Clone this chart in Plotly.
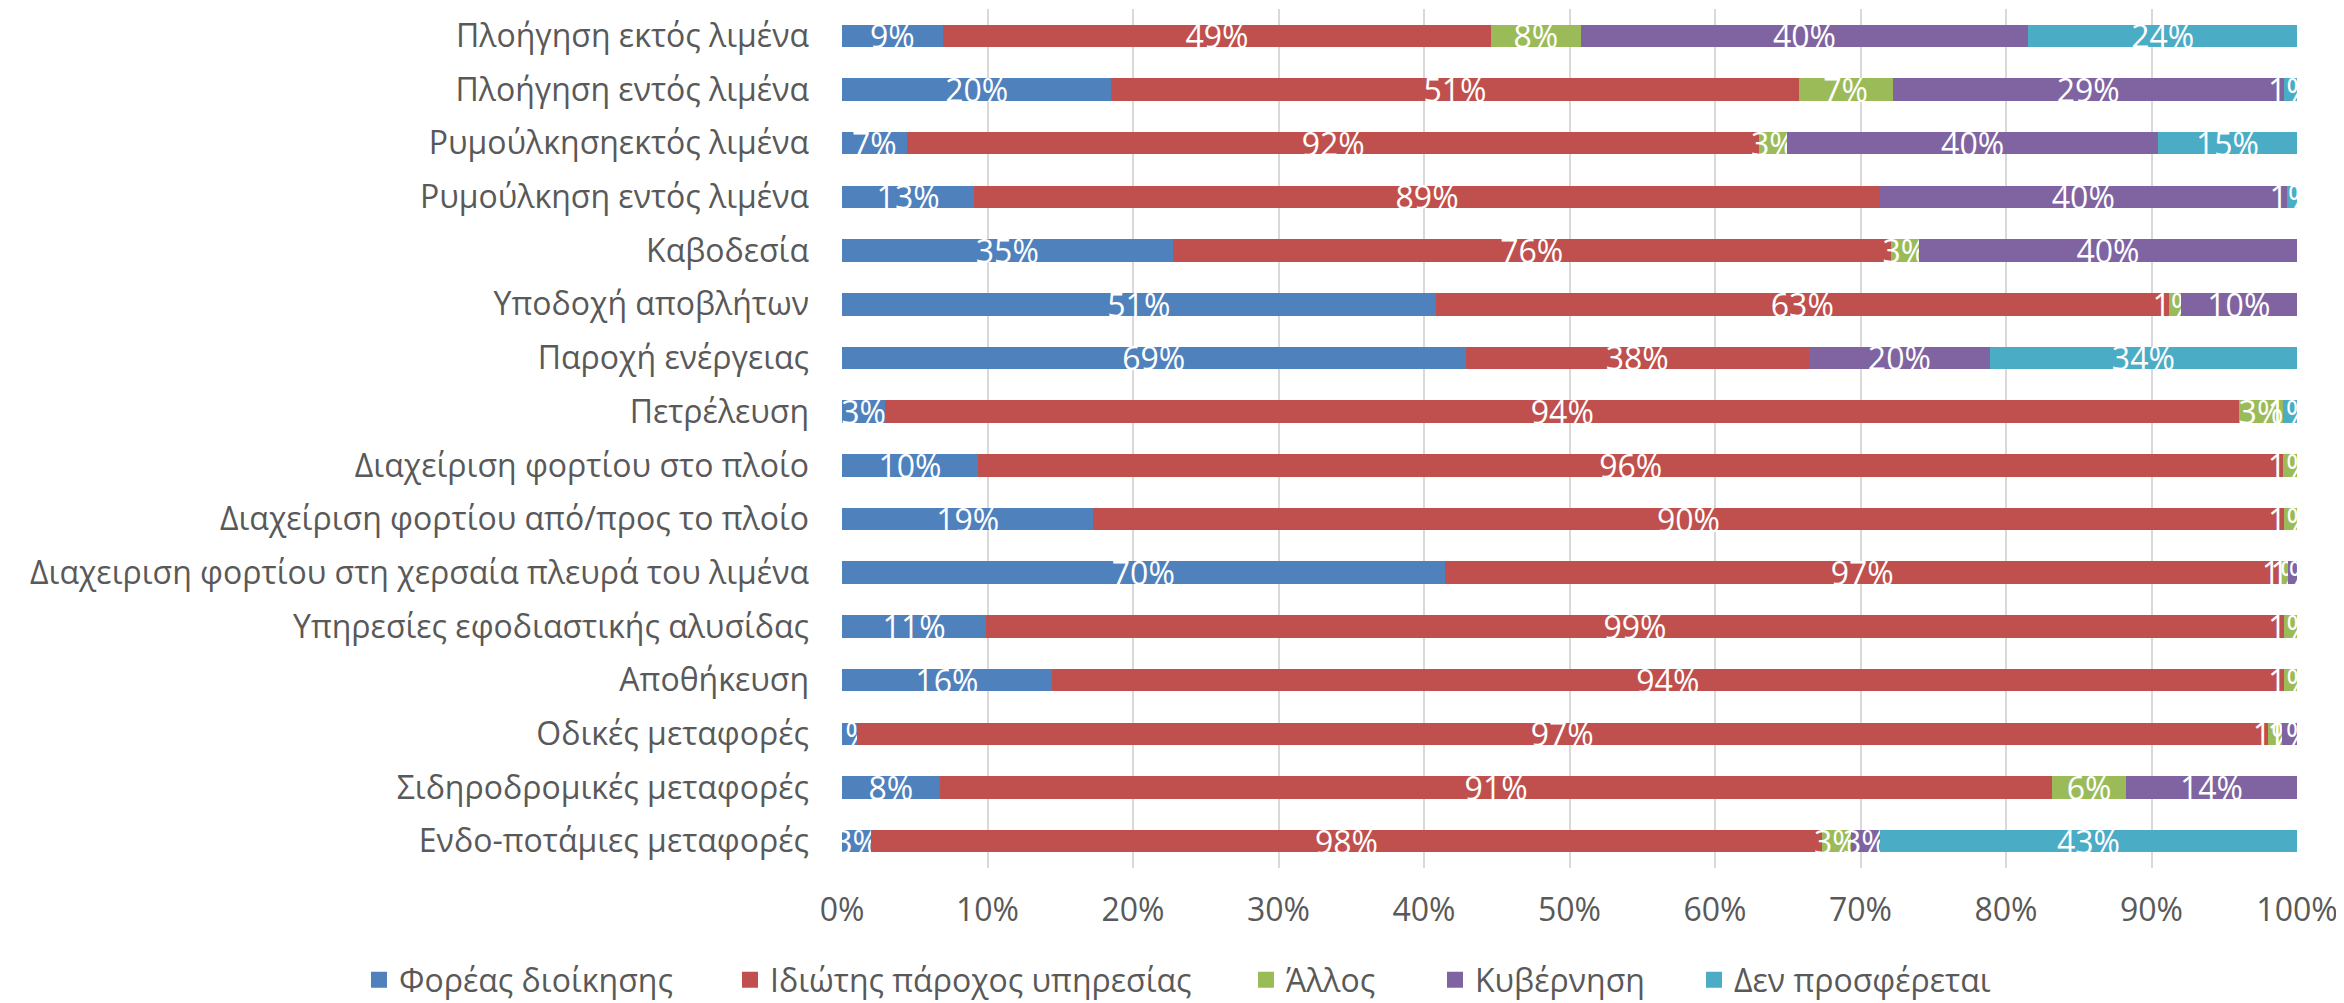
import plotly.graph_objects as go

categories = [
    "Πλοήγηση εκτός λιμένα",
    "Πλοήγηση εντός λιμένα",
    "Ρυμούλκησηεκτός λιμένα",
    "Ρυμούλκηση εντός λιμένα",
    "Καβοδεσία",
    "Υποδοχή αποβλήτων",
    "Παροχή ενέργειας",
    "Πετρέλευση",
    "Διαχείριση φορτίου στο πλοίο",
    "Διαχείριση φορτίου από/προς το πλοίο",
    "Διαχειριση φορτίου στη χερσαία πλευρά του λιμένα",
    "Υπηρεσίες εφοδιαστικής αλυσίδας",
    "Αποθήκευση",
    "Οδικές μεταφορές",
    "Σιδηροδρομικές μεταφορές",
    "Ενδο-ποτάμιες μεταφορές",
]

foreas = [9, 20, 7, 13, 35, 51, 69, 3, 10, 19, 70, 11, 16, 1, 8, 3]
idiotis = [49, 51, 92, 89, 76, 63, 38, 94, 96, 90, 97, 99, 94, 97, 91, 98]
allos = [8, 7, 3, 0, 3, 1, 0, 3, 1, 1, 1, 1, 1, 1, 6, 3]
kyvernisi = [40, 29, 40, 40, 40, 10, 20, 0, 0, 0, 1, 0, 0, 1, 14, 3]
den_prosf = [24, 1, 15, 1, 0, 0, 34, 1, 0, 0, 0, 0, 0, 0, 0, 43]

series_names = ["Φορέας διοίκησης", "Ιδιώτης πάροχος υπηρεσίας", "Άλλος", "Κυβέρνηση", "Δεν προσφέρεται"]
series_values = [foreas, idiotis, allos, kyvernisi, den_prosf]
colors = ["#4F81BD", "#C0504D", "#9BBB59", "#8064A2", "#4BACC6"]

tick_vals = list(range(0, 101, 10))
tick_text = [f"{v}%" for v in tick_vals]

FONT = "Open Sans"
TXT = "#595959"
FS = 32
W, H = 2336, 995
# legend entry marker centres (px from figure left)
legend_px = [376, 747, 1263, 1452, 1711]
LEG_OFF = 25

fig = go.Figure()
legend_layouts = {}
for i, (name, vals, col) in enumerate(zip(series_names, series_values, colors)):
    lid = "legend" if i == 0 else f"legend{i + 1}"
    fig.add_trace(go.Bar(
        y=categories,
        x=[v if v > 0 else None for v in vals],
        orientation="h",
        name=name,
        marker=dict(color=col, line=dict(width=0)),
        text=[f"{v}%" if v > 0 else "" for v in vals],
        textposition="inside",
        insidetextanchor="middle",
        textangle=0,
        textfont=dict(color="white", size=FS, family=FONT),
        showlegend=False,
    ))
    fig.add_trace(go.Scatter(
        x=[None], y=[None], mode="markers", name=name,
        marker=dict(symbol="square", size=16, color=col),
        showlegend=True, legend=lid,
    ))
    legend_layouts[lid] = dict(
        orientation="h", x=(legend_px[i] - LEG_OFF) / W, xanchor="left", xref="container",
        y=(H - 972) / H, yref="container", yanchor="middle",
        bgcolor="rgba(0,0,0,0)",
        font=dict(size=FS, color=TXT, family=FONT),
    )

fig.update_layout(
    width=W, height=H,
    barmode="stack", barnorm="percent", bargap=0.58,
    plot_bgcolor="white", paper_bgcolor="white",
    margin=dict(l=834, r=47, t=1, b=135),
    font=dict(family=FONT, size=FS, color=TXT),
    uniformtext=dict(mode="show", minsize=FS),
    **legend_layouts,
)
fig.update_xaxes(range=[0, 100], tickvals=tick_vals, ticktext=tick_text,
                 showgrid=True, gridcolor="#D9D9D9", gridwidth=2, zeroline=False,
                 showline=False, ticks="", ticklabelstandoff=20,
                 tickfont=dict(size=FS, color=TXT, family=FONT))
fig.update_yaxes(autorange="reversed", showgrid=False, showline=False, ticks="",
                 ticklabelstandoff=32, tickfont=dict(size=FS, color=TXT, family=FONT))

fig.write_html("out.html")
